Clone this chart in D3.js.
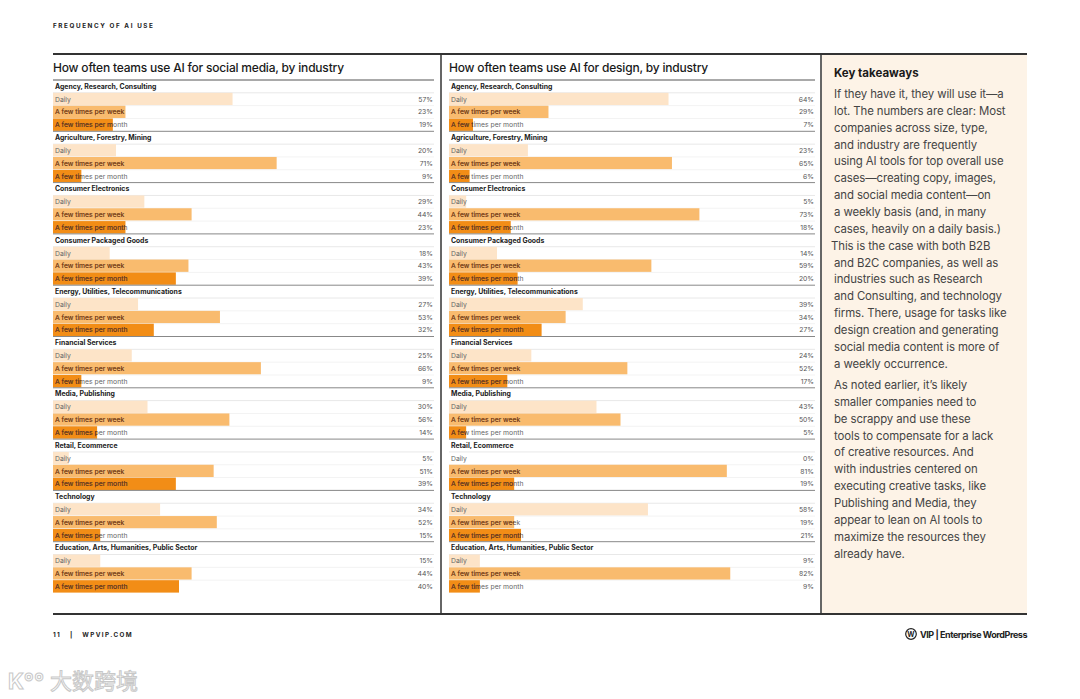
<!DOCTYPE html>
<html><head><meta charset="utf-8">
<script src="https://cdn.jsdelivr.net/npm/d3@7/dist/d3.min.js"></script>
<style>
html,body{margin:0;padding:0;background:#fff;}
svg{display:block;font-family:Inter,"Noto Sans",sans-serif;}
</style></head>
<body><svg id="chart" width="1080" height="699"></svg>
<script>
const categories = ["Agency, Research, Consulting","Agriculture, Forestry, Mining","Consumer Electronics","Consumer Packaged Goods","Energy, Utilities, Telecommunications","Financial Services","Media, Publishing","Retail, Ecommerce","Technology","Education, Arts, Humanities, Public Sector"];
const frequencies = ["Daily","A few times per week","A few times per month"];
const socialDaily = [57,20,29,18,27,25,30,5,34,15];
const socialWeek  = [23,71,44,43,53,66,56,51,52,44];
const socialMonth = [19,9,23,39,32,9,14,39,15,40];
const designDaily = [64,23,5,14,39,24,43,0,58,9];
const designWeek  = [29,65,73,59,34,52,50,81,19,82];
const designMonth = [7,6,18,20,27,17,5,19,21,9];
const panelTitles = ["How often teams use AI for social media, by industry","How often teams use AI for design, by industry"];
const takeawayTitle = "Key takeaways";
const para1 = ["If they have it, they will use it\u2014a","lot. The numbers are clear: Most","companies across size, type,","and industry are frequently","using AI tools for top overall use","cases\u2014creating copy, images,","and social media content\u2014on","a weekly basis (and, in many","cases, heavily on a daily basis.)","This is the case with both B2B","and B2C companies, as well as","industries such as Research","and Consulting, and technology","firms. There, usage for tasks like","design creation and generating","social media content is more of","a weekly occurrence."];
const para2 = ["As noted earlier, it\u2019s likely","smaller companies need to","be scrappy and use these","tools to compensate for a lack","of creative resources. And","with industries centered on","executing creative tasks, like","Publishing and Media, they","appear to lean on AI tools to","maximize the resources they","already have."];

const svg = d3.select("#chart");
const barColors = ["#fde4c8","#f9bb6e","#f28d16"];
const onBarText = ["#777","#8a3a00","#6e2a00"];

// header
svg.append("text").attr("x",53).attr("y",28).text("FREQUENCY OF AI USE")
  .attr("font-size",6.3).attr("font-weight",700).attr("letter-spacing",1.6).attr("fill","#222");

// right panel background
svg.append("rect").attr("x",822).attr("y",55).attr("width",205).attr("height",558).attr("fill","#fdf3e7");

const panels = [
  {x0:53, x1:434, barW:315, title:panelTitles[0], data:[socialDaily,socialWeek,socialMonth]},
  {x0:449, x1:815, barW:343, title:panelTitles[1], data:[designDaily,designWeek,designMonth]}
];

const yCat = d3.scaleBand().domain(categories).range([80,593]);
const rows = ["label"].concat(frequencies);
const yRow = d3.scaleBand().domain(rows).range([0,yCat.bandwidth()]);
let clipId = 0;
const fs = 6.8;

panels.forEach((p,pi)=>{
  const g = svg.append("g");
  const x = d3.scaleLinear().domain([0,100]).range([p.x0,p.x0+p.barW]);
  g.append("text").attr("x",p.x0).attr("y",72).text(p.title)
    .attr("font-size",12).attr("font-weight",500).attr("fill","#1a1a1a").attr("letter-spacing",-0.2);
  g.append("line").attr("x1",p.x0).attr("x2",p.x1).attr("y1",80).attr("y2",80).attr("stroke","#555").attr("stroke-width",1);
  categories.forEach((c,ci)=>{
    const y0 = yCat(c);
    const cg = g.append("g").attr("transform",`translate(0,${y0})`);
    cg.append("text").attr("x",p.x0+2).attr("y",yRow("label")+yRow.bandwidth()/2+2.2).text(c)
      .attr("font-size",6.9).attr("font-weight",700).attr("fill","#222");
    cg.append("line").attr("x1",p.x0).attr("x2",p.x1).attr("y1",yRow("Daily")).attr("y2",yRow("Daily")).attr("stroke","#e8e8e8");
    frequencies.forEach((f,fi)=>{
      const v = p.data[fi][ci];
      const yy = yRow(f);
      const h = yRow.bandwidth();
      const w = x(v)-x(0);
      cg.append("rect").attr("x",x(0)).attr("y",yy).attr("width",w).attr("height",h-0.4).attr("fill",barColors[fi]);
      const ty = yy+h/2+2.4;
      cg.append("text").attr("x",p.x0+2).attr("y",ty).text(f).attr("font-size",fs).attr("fill","#666");
      if(fi>0){
        const id = "clip"+(clipId++);
        cg.append("clipPath").attr("id",id).append("rect").attr("x",x(0)).attr("y",yy).attr("width",w).attr("height",h);
        cg.append("text").attr("x",p.x0+2).attr("y",ty).text(f).attr("font-size",fs).attr("fill",onBarText[fi]).attr("clip-path",`url(#${id})`);
      }
      cg.append("text").attr("x",p.x1-1).attr("y",ty).attr("text-anchor","end").text(v+"%")
        .attr("font-size",fs).attr("fill","#555");
      if(fi<2) cg.append("line").attr("x1",p.x0).attr("x2",p.x1).attr("y1",yy+h).attr("y2",yy+h).attr("stroke","#f3f3f3");
    });
    if(ci<categories.length-1){
      cg.append("line").attr("x1",p.x0).attr("x2",p.x1).attr("y1",yCat.bandwidth()).attr("y2",yCat.bandwidth())
        .attr("stroke","#888").attr("stroke-width",1);
    }
  });
});

// frame lines
svg.append("line").attr("x1",53).attr("x2",1027).attr("y1",54).attr("y2",54).attr("stroke","#333").attr("stroke-width",2);
svg.append("line").attr("x1",53).attr("x2",1027).attr("y1",614).attr("y2",614).attr("stroke","#333").attr("stroke-width",2);
[441,821].forEach(xv=>svg.append("line").attr("x1",xv).attr("x2",xv).attr("y1",54).attr("y2",614).attr("stroke","#333").attr("stroke-width",1.5));

// takeaways
svg.append("text").attr("x",834).attr("y",77).text(takeawayTitle).attr("font-size",11.5).attr("font-weight",700).attr("fill","#1a1a1a");
const lh = 16.85;
para1.forEach((t,i)=>svg.append("text").attr("x",i===9?831:834).attr("y",98+i*lh).text(t).attr("font-size",11.4).attr("fill","#444").attr("letter-spacing",-0.1));
para2.forEach((t,i)=>svg.append("text").attr("x",834).attr("y",389+i*lh).text(t).attr("font-size",11.4).attr("fill","#444").attr("letter-spacing",-0.1));

// footer
svg.append("text").attr("x",53).attr("y",637).text("11   |   WPVIP.COM").attr("font-size",6.3).attr("font-weight",700).attr("letter-spacing",1.4).attr("fill","#222").style("white-space","pre");
const lg = svg.append("g");
lg.append("circle").attr("cx",911).attr("cy",634).attr("r",5.3).attr("fill","none").attr("stroke","#222").attr("stroke-width",1.2);
lg.append("text").attr("x",911).attr("y",636.8).attr("text-anchor","middle").text("W").attr("font-size",7).attr("font-weight",700).attr("fill","#222");
lg.append("text").attr("x",1027).attr("y",637.5).attr("text-anchor","end").text("VIP | Enterprise WordPress").attr("font-size",9).attr("font-weight",700).attr("letter-spacing",-0.45).attr("fill","#222");

// watermark
svg.append("text").attr("x",8).attr("y",689).text("K\u00B0\u00B0").attr("font-size",22).attr("font-weight",700).attr("fill","#fff").attr("stroke","#c8c8c8").attr("stroke-width",1);
svg.append("text").attr("x",50).attr("y",689).text("大数跨境").attr("font-family","'Noto Sans CJK SC'").attr("font-size",22).attr("fill","#fff").attr("stroke","#c8c8c8").attr("stroke-width",1);
</script></body></html>
